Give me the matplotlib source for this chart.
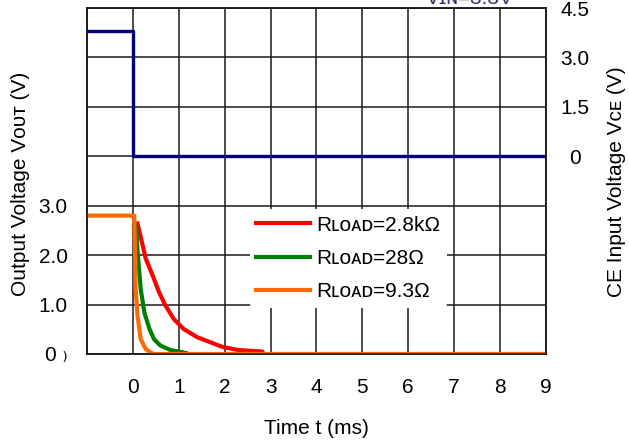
import numpy as np
import matplotlib.pyplot as plt

plt.rcParams['font.family'] = ['Liberation Sans', 'DejaVu Sans']

# CE input voltage (right axis)
t_ce = [-1, 0, 0, 9]
v_ce = [3.8, 3.8, 0, 0]

# output voltage curves (left axis)
t_28k = [0.1, 0.18, 0.28, 0.43, 0.57, 0.71, 0.89, 1.1, 1.4, 1.68, 1.96, 2.3, 2.82, 2.85]
v_28k = [2.64, 2.33, 1.93, 1.59, 1.25, 0.98, 0.71, 0.51, 0.34, 0.24, 0.14, 0.08, 0.05, 0.0]

t_28 = [0.07, 0.1, 0.14, 0.17, 0.25, 0.36, 0.46, 0.6, 0.82, 1.1, 1.15]
v_28 = [2.6, 2.1, 1.65, 1.32, 0.84, 0.51, 0.3, 0.17, 0.08, 0.03, 0.02]

t_93 = [-1, 0.03, 0.05, 0.06, 0.1, 0.17, 0.28, 0.42, 0.5, 9]
v_93 = [2.8, 2.8, 1.9, 1.32, 0.78, 0.3, 0.1, 0.01, 0.0, 0.0]

xticks = list(range(0, 10))
yticks_left = [0, 1, 2, 3]
ylabels_left = ['0 ₎', '1.0', '2.0', '3.0']
yticks_right = [0, 1.5, 3.0, 4.5]
ylabels_right = ['0', '1.5', '3.0', '4.5']

fig = plt.figure(figsize=(6.29, 4.46), dpi=100)
ax = fig.add_axes([0.1383, 0.2063, 0.7297, 0.7757])
ax2 = ax.twinx()

ax.set_xlim(-1, 9)
ax.set_ylim(0, 7)
ax2.set_ylim(-6, 4.5)

# grid
for x in range(-1, 10):
    ax.axvline(x, color='#1a1a1a', lw=1.1, zorder=1)
for y in range(0, 8):
    ax.axhline(y, color='#1a1a1a', lw=1.1, zorder=1)

ax2.plot(t_ce, v_ce, color='#000080', lw=2.4, zorder=3)

l1, = ax.plot(t_28k, v_28k, color='#ff0000', lw=3.0, zorder=3, label='Rʟᴏᴀᴅ=2.8kΩ')
l2, = ax.plot(t_28, v_28, color='#008000', lw=3.0, zorder=3, label='Rʟᴏᴀᴅ=28Ω')
l3, = ax.plot(t_93, v_93, color='#ff6a00', lw=3.0, zorder=4, label='Rʟᴏᴀᴅ=9.3Ω')

ax.set_xticks(xticks)
ax.set_xticklabels([str(x) for x in xticks])
ax.set_yticks(yticks_left)
ax.set_yticklabels(ylabels_left)
ax2.set_yticks(yticks_right)
ax2.set_yticklabels(ylabels_right)

ax.tick_params(axis='x', length=0, pad=17, labelsize=15)
ax.tick_params(axis='y', length=0, pad=14, labelsize=15)
ax2.tick_params(axis='y', length=0, pad=21, labelsize=15)
for lab in ax2.get_yticklabels():
    lab.set_horizontalalignment('center')

for a in (ax, ax2):
    for s in a.spines.values():
        s.set_color('#1a1a1a')
        s.set_linewidth(1.1)

ax.set_xlabel('Time t (ms)', fontsize=15, labelpad=16)
ax.set_ylabel('Output Voltage Vᴏᴜᴛ (V)', fontsize=15)
ax.yaxis.set_label_coords(-0.125, 0.493)
ax2.set_ylabel('CE Input Voltage Vᴄᴇ (V)', fontsize=15, rotation=90)
ax2.yaxis.set_label_coords(1.133, 0.499)

leg = ax.legend(handles=[l1, l2, l3], loc='upper left', bbox_to_anchor=(0.355, 0.418),
                frameon=True, fontsize=15, handlelength=2.6, handletextpad=0.3,
                labelspacing=0.69, borderpad=0.3, borderaxespad=0)
leg.get_frame().set_facecolor('white')
leg.get_frame().set_edgecolor('none')
leg.get_frame().set_alpha(1)
leg.set_zorder(5)

fig.text(0.747, 0.991, 'Vɪɴ=3.3V', fontsize=15, ha='center', va='baseline', color='#333366')

fig.savefig('out.png', dpi=100)
